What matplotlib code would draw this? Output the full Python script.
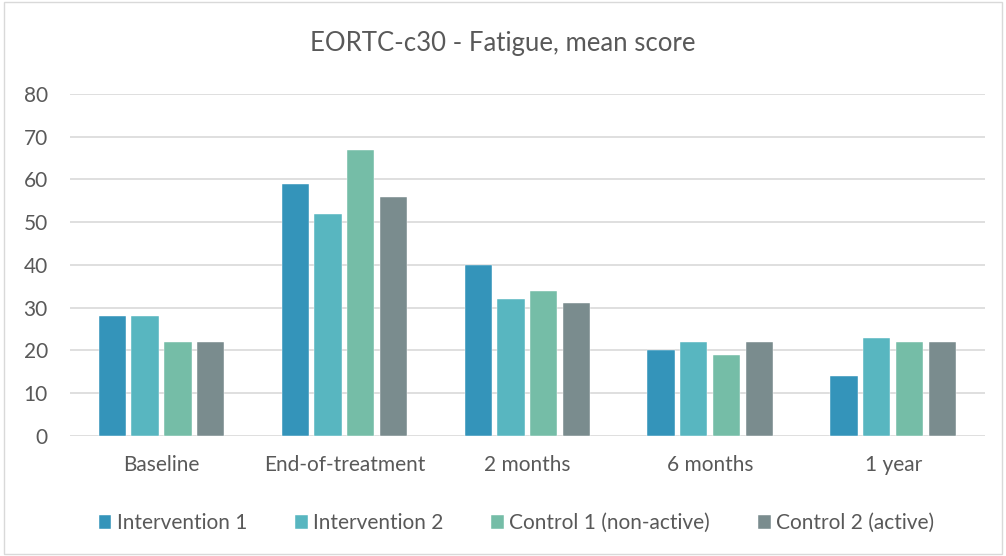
import numpy as np
import matplotlib.pyplot as plt
from matplotlib.patches import Rectangle

plt.rcParams['font.family'] = ['Lato', 'DejaVu Sans']

categories = ['Baseline', 'End-of-treatment', '2 months', '6 months', '1 year']
series = ['Intervention 1', 'Intervention 2', 'Control 1 (non-active)', 'Control 2 (active)']
intervention1 = [28, 59, 40, 20, 14]
intervention2 = [28, 52, 32, 22, 23]
control1 = [22, 67, 34, 19, 22]
control2 = [22, 56, 31, 22, 22]
colors = ['#3494BA', '#58B6C0', '#75BDA7', '#7A8C8E']

values = [intervention1, intervention2, control1, control2]

fig = plt.figure(figsize=(10.06, 5.56), dpi=100)
ax = fig.add_axes([0.0696, 0.216, 0.9094, 0.615])

x = np.arange(len(categories))
slot = 0.18
width = 0.148
for i, (name, vals, c) in enumerate(zip(series, values, colors)):
    ax.bar(x + (i - 1.5) * slot, vals, width, color=c, label=name,
           edgecolor='white', linewidth=0.3, zorder=3)

ax.set_xlim(-0.5, len(categories) - 0.5)
ax.set_ylim(0, 80)
ax.set_yticks(range(0, 81, 10))
ax.set_xticks(x)
ax.set_xticklabels(categories)
ax.yaxis.grid(True, color='#D9D9D9', linewidth=1.2, zorder=0)
for s in ax.spines.values():
    s.set_visible(False)
ax.tick_params(length=0, labelsize=15, colors='#595959')
ax.tick_params(axis='y', pad=16)
ax.tick_params(axis='x', pad=14)

fig.suptitle('EORTC-c30 - Fatigue, mean score', y=0.945, fontsize=18.5, color='#595959')

ax.legend(loc='center', bbox_to_anchor=(0.488, -0.255), ncol=4, frameon=False,
          fontsize=15, labelcolor='#595959', handlelength=0.62, handleheight=0.62,
          handletextpad=0.25, columnspacing=2.3)

fig.patches.append(Rectangle((0.004, 0.004), 0.992, 0.992, transform=fig.transFigure,
                             fill=False, edgecolor='#D9D9D9', linewidth=1))

fig.savefig('out.png', dpi=100)
